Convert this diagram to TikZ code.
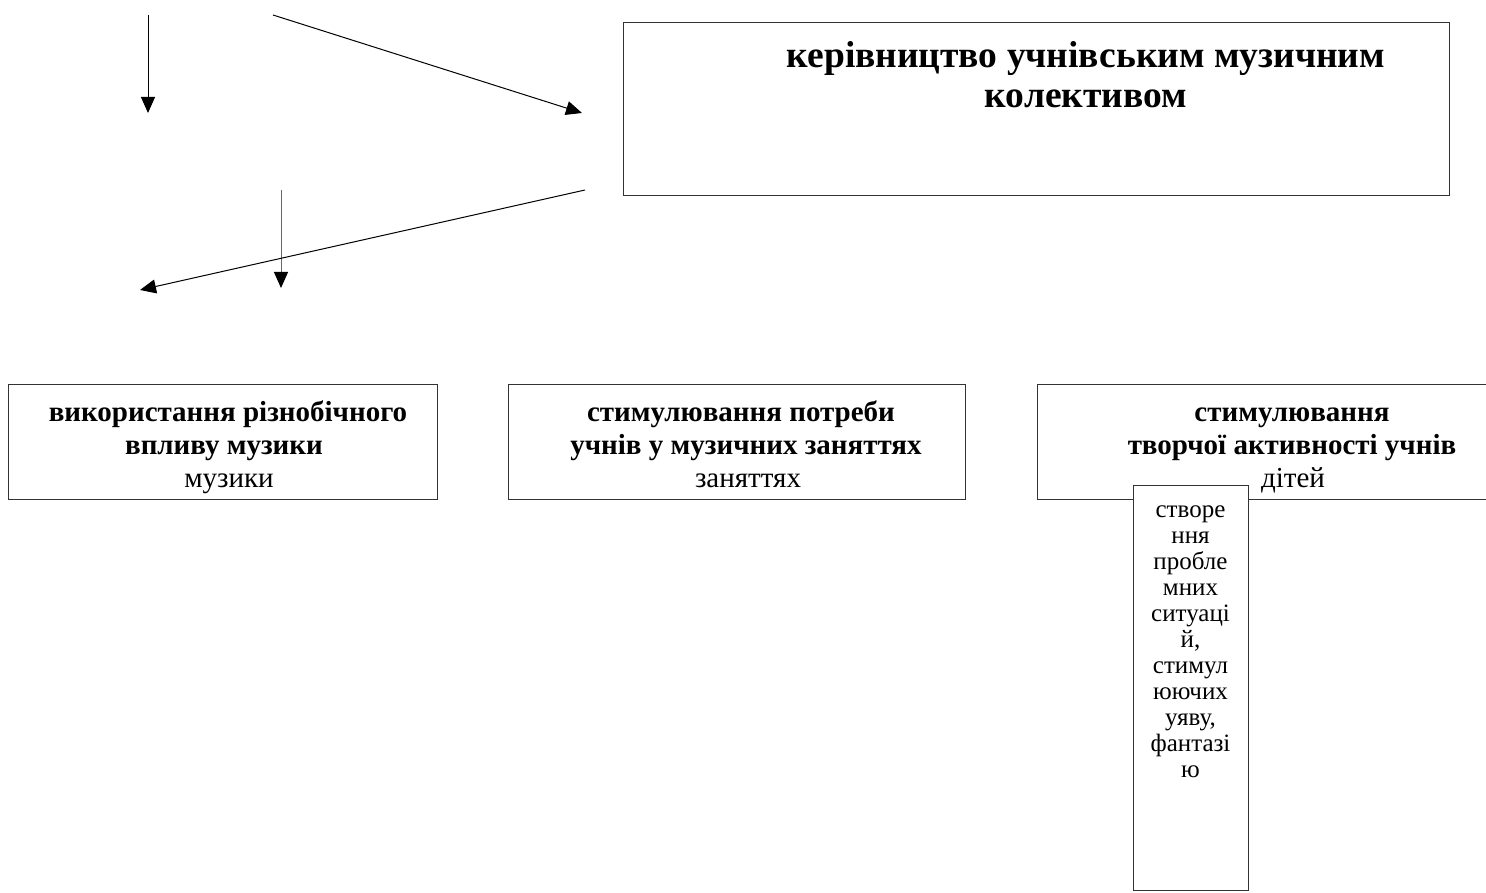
\documentclass[tikz,border=0pt]{standalone}
\usepackage{fontspec}
\setmainfont{Liberation Serif}
\usetikzlibrary{arrows.meta}
\tikzset{
  x=1pt,y=-1pt,
  conn/.style={line width=1pt,-{Triangle[length=16pt,width=14pt,color=black]}},
  boxshape/.style={draw=black!80,line width=1pt,rectangle,inner sep=0pt,anchor=north west},
  bl/.style={anchor=base,inner sep=0pt,font=\bfseries\fontsize{29}{33}\selectfont},
  rl/.style={anchor=base,inner sep=0pt,font=\fontsize{29}{33}\selectfont},
  tl/.style={anchor=base,inner sep=0pt,font=\bfseries\fontsize{37.5}{40}\selectfont},
  sl/.style={anchor=base,inner sep=0pt,font=\fontsize{25}{27}\selectfont},
}
\begin{document}
\begin{tikzpicture}
\useasboundingbox (0,0) rectangle (1486,893);
% boxes
\node[boxshape,minimum width=826pt,minimum height=173pt] (top) at (623,22) {};
\node[boxshape,minimum width=429pt,minimum height=115pt] (b1) at (8,384) {};
\node[boxshape,minimum width=457pt,minimum height=115pt] (b2) at (508,384) {};
\node[boxshape,minimum width=510pt,minimum height=115pt] (b3) at (1037,384) {};
\node[boxshape,fill=white,minimum width=115pt,minimum height=405pt] (sb) at (1133,485) {};
% top text
\node[tl] (tt1) at (1086,68) {керівництво учнівським музичним};
\node[tl] (tt2) at (1086,108) {колективом};
% box 1
\node[bl] (t1a) at (228,421) {використання різнобічного};
\node[bl] (t1b) at (224,454) {впливу музики};
\node[rl] (t1c) at (229,487) {музики};
% box 2
\node[bl] (t2a) at (741,421) {стимулювання потреби};
\node[bl] (t2b) at (746,454) {учнів у музичних заняттях};
\node[rl] (t2c) at (748,487) {заняттях};
% box 3
\node[bl] (t3a) at (1292,421) {стимулювання};
\node[bl] (t3b) at (1292,454) {творчої активності учнів};
\node[rl] (t3c) at (1293,487) {дітей};
% small box
\node[sl] (s1) at (1190.5,517) {створе};
\node[sl] (s2) at (1190.5,543) {ння};
\node[sl] (s3) at (1190.5,569) {пробле};
\node[sl] (s4) at (1190.5,595) {мних};
\node[sl] (s5) at (1190.5,621) {ситуаці};
\node[sl] (s6) at (1190.5,647) {й,};
\node[sl] (s7) at (1190.5,673) {стимул};
\node[sl] (s8) at (1190.5,699) {юючих};
\node[sl] (s9) at (1190.5,725) {уяву,};
\node[sl] (s10) at (1190.5,751) {фантазі};
\node[sl] (s11) at (1190.5,777) {ю};
% connector endpoints
\coordinate (a1s) at (148,15); \coordinate (a1e) at (148,113);
\coordinate (a2s) at (273,15); \coordinate (a2e) at (582,113);
\coordinate (a3s) at (281,190); \coordinate (a3e) at (281,288);
\coordinate (a4s) at (585,190); \coordinate (a4e) at (140,290);
\draw[conn] (a1s) -- (a1e);
\draw[conn] (a2s) -- (a2e);
\draw[conn,draw=black!60] (a3s) -- (a3e);
\draw[conn] (a4s) -- (a4e);
\end{tikzpicture}
\end{document}
